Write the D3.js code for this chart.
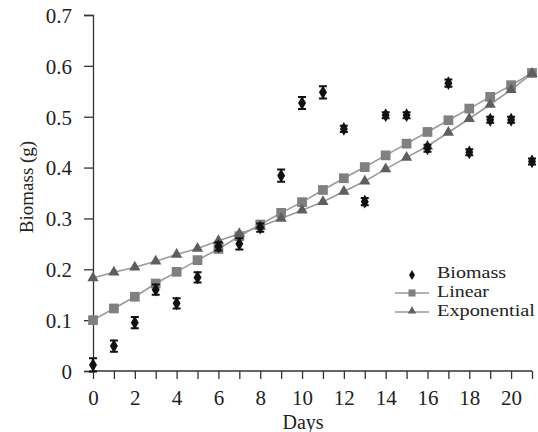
<!DOCTYPE html>
<html>
<head>
<meta charset="utf-8">
<script src="https://cdn.jsdelivr.net/npm/d3@7"></script>
<style>
  body { margin: 0; background: #fff; }
  svg text { font-family: "Times New Roman", "Liberation Serif", Times, serif; }
</style>
</head>
<body>
<svg id="chart" width="538" height="432"></svg>
<script>
// values
var days = [0,1,2,3,4,5,6,7,8,9,10,11,12,13,14,15,16,17,18,19,20,21];
var biomass = [0.012,0.049,0.095,0.160,0.133,0.184,0.245,0.250,0.282,0.384,0.527,0.548,0.476,0.333,0.503,0.503,0.438,0.566,0.430,0.494,0.494,0.412];
var biomassErr = [0.013,0.011,0.011,0.010,0.010,0.010,0.008,0.011,0.008,0.012,0.012,0.012,0.006,0.007,0.006,0.006,0.007,0.007,0.006,0.006,0.006,0.006];
var linear = [0.100,0.123,0.146,0.172,0.195,0.218,0.240,0.265,0.288,0.311,0.332,0.356,0.379,0.401,0.424,0.447,0.470,0.493,0.516,0.539,0.562,0.586];
var exponential = [0.183,0.194,0.204,0.216,0.229,0.241,0.256,0.270,0.284,0.300,0.316,0.333,0.353,0.373,0.397,0.420,0.442,0.469,0.496,0.524,0.553,0.585];
var xTicks = [0,2,4,6,8,10,12,14,16,18,20];
var yTicks = [0,0.1,0.2,0.3,0.4,0.5,0.6,0.7];

var svg = d3.select("#chart");

var x = d3.scaleLinear().domain([0, 21]).range([93, 532]);
var y = d3.scaleLinear().domain([0, 0.7]).range([371, 15]);

var axisColor = "#333";

// x axis - a tick every day, label every 2nd
var gx = svg.append("g").attr("transform", "translate(0,371)")
    .call(d3.axisBottom(x).tickValues(days).tickSize(8).tickPadding(11)
        .tickFormat(d => xTicks.includes(d) ? d : ""));
gx.select(".domain").attr("d", "M93,0H532");

// y axis
var gy = svg.append("g").attr("transform", "translate(93,0)")
    .call(d3.axisLeft(y).tickValues(yTicks).tickSize(9).tickPadding(12)
        .tickFormat(d => d === 0 ? "0" : d3.format(".1f")(d)));

svg.selectAll("g").attr("font-family", null);
svg.selectAll(".domain, .tick line").attr("stroke", axisColor).attr("stroke-width", 1.3);
svg.selectAll(".tick text").attr("fill", "#222").style("font-size", "21px");
gy.selectAll(".tick text").attr("dy", "0.35em");

// axis titles
svg.append("text").attr("x", 303).attr("y", 429).attr("text-anchor", "middle")
    .style("font-size", "20px").attr("fill", "#222").text("Days");
svg.append("text").attr("transform", "translate(33,187) rotate(-90)")
    .attr("text-anchor", "middle").style("font-size", "19px").attr("fill", "#222")
    .text("Biomass (g)");

var lineGen = function(vals) {
    return d3.line().x((d, i) => x(days[i])).y(d => y(d))(vals);
};

// fitted lines
svg.append("path").attr("d", lineGen(linear)).attr("fill", "none")
    .attr("stroke", "#9a9a9a").attr("stroke-width", 1.6);
svg.append("path").attr("d", lineGen(exponential)).attr("fill", "none")
    .attr("stroke", "#9a9a9a").attr("stroke-width", 1.6);

// markers
svg.selectAll(".sq").data(linear).enter().append("path")
    .attr("transform", (d, i) => "translate(" + x(days[i]) + "," + y(d) + ")")
    .attr("d", d3.symbol().type(d3.symbolSquare).size(95))
    .attr("fill", "#808080");

svg.selectAll(".tri").data(exponential).enter().append("path")
    .attr("transform", (d, i) => "translate(" + x(days[i]) + "," + y(d) + ")")
    .attr("d", d3.symbol().type(d3.symbolTriangle).size(55))
    .attr("fill", "#5e5e5e");

// biomass with error bars
var eb = svg.selectAll(".eb").data(biomass).enter().append("g")
    .attr("transform", (d, i) => "translate(" + x(days[i]) + ",0)");
eb.append("path")
    .attr("d", (d, i) => {
        var top = y(d + biomassErr[i]), bot = y(d - biomassErr[i]);
        return "M-4," + top + "H4M0," + top + "V" + bot + "M-4," + bot + "H4";
    })
    .attr("stroke", "#111").attr("stroke-width", 2).attr("fill", "none");
eb.append("path")
    .attr("transform", d => "translate(0," + y(d) + ")")
    .attr("d", d3.symbol().type(d3.symbolDiamond).size(55))
    .attr("fill", "#111");

// legend
var legend = svg.append("g");
var items = [
    {label: "Biomass", yy: 273, len: 69},
    {label: "Linear", yy: 292, len: 52},
    {label: "Exponential", yy: 311, len: 98}
];
legend.selectAll("text").data(items).enter().append("text")
    .attr("x", 437).attr("y", d => d.yy + 5)
    .attr("textLength", d => d.len).attr("lengthAdjust", "spacingAndGlyphs")
    .style("font-size", "16px").attr("fill", "#222").text(d => d.label);

legend.append("path").attr("transform", "translate(412,275)")
    .attr("d", d3.symbol().type(d3.symbolDiamond).size(30)).attr("fill", "#111");
legend.append("line").attr("x1", 395).attr("x2", 429).attr("y1", 293).attr("y2", 293)
    .attr("stroke", "#9a9a9a").attr("stroke-width", 1.6);
legend.append("path").attr("transform", "translate(412,293)")
    .attr("d", d3.symbol().type(d3.symbolSquare).size(50)).attr("fill", "#808080");
legend.append("line").attr("x1", 395).attr("x2", 429).attr("y1", 312).attr("y2", 312)
    .attr("stroke", "#9a9a9a").attr("stroke-width", 1.6);
legend.append("path").attr("transform", "translate(412,311)")
    .attr("d", d3.symbol().type(d3.symbolTriangle).size(30)).attr("fill", "#5e5e5e");
</script>
</body>
</html>
